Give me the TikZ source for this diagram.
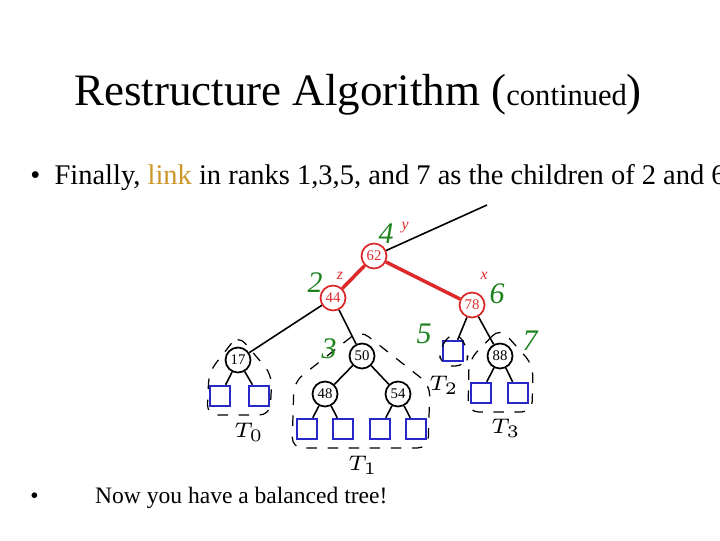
\documentclass[tikz,border=0pt]{standalone}
\usepackage{fontspec}
\setmainfont{Liberation Serif}
\usetikzlibrary{positioning}
\definecolor{linkcol}{RGB}{205,150,40}
\definecolor{rankcol}{RGB}{30,130,30}
\definecolor{keycol}{RGB}{220,40,40}
\definecolor{extcol}{RGB}{40,40,200}
\begin{document}
\begin{tikzpicture}[
    x=1cm, y=1cm,
    key/.style={
        circle, draw=black, line width=0.5pt,
        minimum size=0.25cm, inner sep=0pt,
        font=\fontsize{4.2}{4.2}\selectfont
    },
    hot/.style={key, draw=keycol, text=keycol},
    ext/.style={
        rectangle, draw=extcol, line width=0.7pt,
        minimum size=0.2cm, inner sep=0pt
    },
    rank/.style={text=rankcol, font=\fontsize{8.5}{8.5}\selectfont\itshape},
    tag/.style={text=keycol, font=\fontsize{4.5}{4.5}\selectfont\itshape},
    sub/.style={font=\fontsize{6}{6}\selectfont},
    edge/.style={line width=0.45pt},
    redge/.style={line width=1pt, draw=keycol},
    hull/.style={dashed, line width=0.35pt, rounded corners=3pt}
]
\useasboundingbox (0,0) rectangle (7.2,5.4);

% Heading and bullets
\node (title) at (3.58,4.45) {\fontsize{12.8}{12.8}\selectfont Restructure Algorithm (\fontsize{8.7}{8.7}\selectfont continued\fontsize{12.8}{12.8}\selectfont)};
\node[anchor=west, font=\fontsize{8.1}{8.1}\selectfont] (first) at (0.18,3.62)
    {\textbullet\enspace Finally, \textcolor{linkcol}{link} in ranks 1,3,5, and 7 as the children of 2 and 6.};
\node[anchor=west, font=\fontsize{6.7}{6.7}\selectfont] (last) at (0.18,0.42)
    {\textbullet\qquad\hspace{1pt} Now you have a balanced tree!};

% Keys
\node[hot] (n62) at (3.74,2.84) {62};
\node[hot] (n44) at (3.33,2.42) {44};
\node[hot] (n78) at (4.72,2.35) {78};
\node[key] (n17) at (2.38,1.80) {17};
\node[key] (n50) at (3.62,1.84) {50};
\node[key] (n48) at (3.25,1.46) {48};
\node[key] (n54) at (3.98,1.46) {54};
\node[key] (n88) at (5.00,1.84) {88};
\coordinate (up) at (4.87,3.35);

% External nodes
\node[ext] (e1) at (2.20,1.44) {};
\node[ext] (e2) at (2.59,1.44) {};
\node[ext] (e3) at (3.07,1.11) {};
\node[ext] (e4) at (3.43,1.11) {};
\node[ext] (e5) at (3.80,1.11) {};
\node[ext] (e6) at (4.16,1.11) {};
\node[ext] (e7) at (4.53,1.89) {};
\node[ext] (e8) at (4.81,1.47) {};
\node[ext] (e9) at (5.18,1.47) {};

% Edges
\draw[edge] (n62) -- (up);
\draw[redge] (n62) -- (n44);
\draw[redge] (n62) -- (n78);
\draw[edge] (n44) -- (n17);
\draw[edge] (n44) -- (n50);
\draw[edge] (n78) -- (e7);
\draw[edge] (n78) -- (n88);
\draw[edge] (n17) -- (e1);
\draw[edge] (n17) -- (e2);
\draw[edge] (n50) -- (n48);
\draw[edge] (n50) -- (n54);
\draw[edge] (n48) -- (e3);
\draw[edge] (n48) -- (e4);
\draw[edge] (n54) -- (e5);
\draw[edge] (n54) -- (e6);
\draw[edge] (n88) -- (e8);
\draw[edge] (n88) -- (e9);

% Subtree outlines
\draw[hull] (2.38,2.05) -- (2.09,1.68) -- (2.07,1.25) -- (2.70,1.25) -- (2.72,1.65) -- cycle;
\draw[hull] (3.60,2.10) -- (2.94,1.58) -- (2.92,0.92) -- (4.28,0.92) -- (4.30,1.55) -- cycle;
\draw[hull] (4.55,2.10) -- (4.39,1.92) -- (4.41,1.74) -- (4.66,1.74) -- (4.69,1.90) -- cycle;
\draw[hull] (5.00,2.12) -- (4.69,1.80) -- (4.68,1.28) -- (5.32,1.28) -- (5.33,1.75) -- cycle;

% Labels
\node[rank] (r4) at (3.86,3.06) {4};
\node[tag] (ty) at (4.05,3.12) {y};
\node[rank] (r2) at (3.15,2.57) {2};
\node[tag] (tz) at (3.40,2.64) {z};
\node[tag] (tx) at (4.84,2.64) {x};
\node[rank] (r6) at (4.97,2.46) {6};
\node[rank] (r5) at (4.24,2.06) {5};
\node[rank] (r3) at (3.29,1.91) {3};
\node[rank] (r7) at (5.30,1.99) {7};
\node[sub] (t0) at (2.49,1.08) {$T_0$};
\node[sub] (t1) at (3.63,0.75) {$T_1$};
\node[sub] (t2) at (4.44,1.55) {$T_2$};
\node[sub] (t3) at (5.06,1.12) {$T_3$};
\end{tikzpicture}
\end{document}
